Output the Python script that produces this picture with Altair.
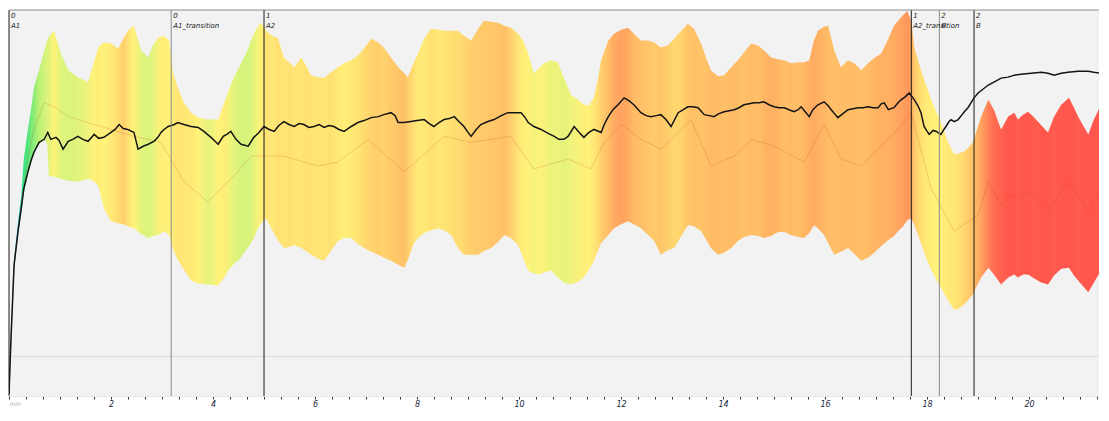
import altair as alt
import pandas as pd

# ---------------- data ----------------
T_SHOWN = 21.37      # right edge of the visible window (minutes)
V_MIN = 10
V_MAX = 401

# band (upper / lower envelope) and its heat level (0 = cold/blue ... 1 = hot/red)
band_t = [0.00, 0.04, 0.10, 0.18, 0.24, 0.29, 0.37, 0.43, 0.49, 0.59,
          0.69, 0.75, 0.78, 0.88, 1.02, 1.16, 1.35, 1.55, 1.65, 1.75,
          1.86, 2.00, 2.14, 2.24, 2.33, 2.45, 2.59, 2.73, 2.82, 2.92,
          3.04, 3.14, 3.22, 3.31, 3.43, 3.57, 3.71, 3.90, 4.10, 4.22,
          4.31, 4.41, 4.51, 4.61, 4.71, 4.80, 4.88, 4.94, 5.04, 5.16,
          5.27, 5.39, 5.49, 5.59, 5.73, 5.82, 5.92, 6.06, 6.18, 6.31,
          6.45, 6.57, 6.71, 6.84, 6.96, 7.10, 7.24, 7.35, 7.49, 7.63,
          7.75, 7.82, 7.94, 8.02, 8.14, 8.27, 8.41, 8.53, 8.67, 8.80,
          8.92, 9.06, 9.20, 9.31, 9.45, 9.59, 9.71, 9.84, 9.98, 10.08,
          10.18, 10.29, 10.39, 10.49, 10.63, 10.76, 10.88, 11.02, 11.16, 11.27,
          11.37, 11.47, 11.55, 11.61, 11.75, 11.86, 12.00, 12.14, 12.25, 12.39,
          12.53, 12.65, 12.78, 12.92, 13.04, 13.18, 13.31, 13.43, 13.57, 13.67,
          13.76, 13.90, 14.02, 14.16, 14.29, 14.41, 14.55, 14.69, 14.80, 14.94,
          15.08, 15.20, 15.33, 15.47, 15.59, 15.69, 15.78, 15.86, 15.98, 16.06,
          16.18, 16.31, 16.45, 16.57, 16.71, 16.84, 16.96, 17.10, 17.24, 17.35,
          17.43, 17.53, 17.61, 17.69, 17.75, 17.88, 17.98, 18.08, 18.18, 18.27,
          18.41, 18.53, 18.63, 18.73, 18.82, 18.90, 18.96, 19.06, 19.20, 19.31,
          19.45, 19.59, 19.71, 19.78, 19.88, 19.98, 20.10, 20.24, 20.37, 20.49,
          20.63, 20.78, 20.88, 20.96, 21.08, 21.16, 21.27, 21.41, 21.53, 21.57, 21.60]

band_hi = [14, 75, 148, 188, 213, 250, 280, 300, 323, 340,
           360, 370, 374, 380, 357, 340, 333, 328, 345, 363,
           368, 367, 362, 372, 380, 385, 360, 353, 365, 373,
           375, 370, 337, 322, 307, 297, 292, 290, 290, 307,
           320, 333, 343, 353, 365, 377, 384, 388, 380, 375,
           373, 353, 348, 343, 353, 345, 335, 333, 332, 338,
           343, 347, 350, 355, 362, 372, 368, 363, 353, 343,
           337, 333, 348, 357, 372, 382, 381, 380, 380, 380,
           375, 370, 382, 390, 389, 388, 385, 383, 377, 370,
           357, 337, 342, 347, 350, 348, 332, 315, 310, 305,
           304, 313, 332, 350, 370, 377, 381, 383, 377, 370,
           370, 368, 363, 365, 372, 380, 387, 382, 367, 352,
           340, 334, 335, 343, 350, 358, 367, 365, 360, 353,
           351, 350, 347, 348, 348, 350, 370, 380, 384, 385,
           360, 343, 350, 347, 340, 347, 352, 357, 372, 385,
           390, 396, 400, 390, 363, 340, 325, 310, 298, 288,
           267, 255, 256, 258, 262, 267, 277, 293, 310, 300,
           280, 293, 297, 290, 295, 298, 292, 284, 277, 293,
           305, 312, 302, 293, 282, 275, 290, 305, 310, 337, 340]

band_lo = [10, 65, 138, 174, 196, 215, 234, 245, 260, 265,
           270, 265, 233, 232, 230, 228, 227, 230, 228, 223,
           200, 187, 185, 184, 182, 180, 174, 170, 172, 173,
           177, 173, 158, 148, 138, 127, 124, 123, 122, 130,
           138, 144, 148, 155, 162, 170, 180, 185, 190, 178,
           168, 160, 161, 163, 160, 157, 153, 149, 147, 157,
           167, 170, 170, 164, 160, 156, 153, 150, 147, 143,
           140, 148, 165, 170, 175, 178, 180, 178, 173, 160,
           153, 153, 153, 157, 160, 166, 173, 170, 163, 150,
           137, 134, 133, 135, 137, 130, 125, 123, 126, 130,
           138, 147, 158, 165, 173, 180, 184, 187, 184, 180,
           173, 167, 153, 158, 160, 172, 183, 182, 177, 168,
           160, 153, 155, 160, 167, 171, 173, 172, 170, 172,
           176, 176, 173, 171, 170, 175, 183, 180, 173, 165,
           153, 156, 160, 154, 147, 150, 155, 162, 168, 172,
           177, 182, 188, 190, 183, 165, 150, 138, 128, 120,
           107, 97, 99, 103, 108, 113, 120, 130, 140, 133,
           123, 130, 133, 130, 133, 133, 129, 125, 123, 132,
           139, 140, 132, 127, 120, 115, 125, 137, 140, 142, 142]

band_heat = [0.00, 0.03, 0.08, 0.12, 0.17, 0.20, 0.22, 0.25, 0.27, 0.32,
             0.38, 0.41, 0.43, 0.50, 0.42, 0.40, 0.42, 0.46, 0.50, 0.52,
             0.50, 0.55, 0.62, 0.68, 0.60, 0.50, 0.43, 0.40, 0.43, 0.48,
             0.52, 0.50, 0.55, 0.58, 0.56, 0.55, 0.50, 0.43, 0.50, 0.52,
             0.47, 0.43, 0.40, 0.39, 0.40, 0.43, 0.48, 0.52, 0.58, 0.55,
             0.60, 0.57, 0.60, 0.58, 0.56, 0.60, 0.58, 0.57, 0.58, 0.60,
             0.55, 0.52, 0.55, 0.58, 0.62, 0.66, 0.68, 0.66, 0.70, 0.72,
             0.74, 0.68, 0.60, 0.55, 0.55, 0.60, 0.56, 0.58, 0.60, 0.62,
             0.64, 0.68, 0.70, 0.70, 0.72, 0.72, 0.74, 0.68, 0.58, 0.52,
             0.50, 0.47, 0.50, 0.48, 0.45, 0.45, 0.43, 0.46, 0.48, 0.52,
             0.50, 0.56, 0.62, 0.68, 0.75, 0.82, 0.85, 0.82, 0.76, 0.74,
             0.72, 0.70, 0.72, 0.68, 0.64, 0.66, 0.72, 0.74, 0.72, 0.74,
             0.76, 0.76, 0.74, 0.76, 0.75, 0.73, 0.76, 0.74, 0.78, 0.80,
             0.78, 0.74, 0.76, 0.74, 0.78, 0.80, 0.82, 0.80, 0.78, 0.76,
             0.74, 0.76, 0.75, 0.76, 0.74, 0.76, 0.78, 0.80, 0.80, 0.82,
             0.84, 0.86, 0.88, 0.85, 0.70, 0.60, 0.55, 0.52, 0.50, 0.52,
             0.55, 0.56, 0.60, 0.65, 0.70, 0.74, 0.78, 0.85, 0.92, 0.96,
             0.98, 1.00, 1.00, 0.99, 1.00, 1.00, 0.99, 1.00, 1.00, 0.99,
             1.00, 1.00, 1.00, 0.99, 1.00, 1.00, 1.00, 1.00, 1.00, 1.00, 1.00]

# black running line
mean_t = [0.00, 0.04, 0.10, 0.18, 0.24, 0.29, 0.37, 0.43, 0.49, 0.59,
          0.69, 0.76, 0.82, 0.92, 0.98, 1.06, 1.16, 1.25, 1.35, 1.45,
          1.55, 1.67, 1.76, 1.86, 2.00, 2.08, 2.16, 2.24, 2.33, 2.45,
          2.53, 2.63, 2.73, 2.84, 2.92, 2.98, 3.04, 3.12, 3.24, 3.31,
          3.43, 3.57, 3.71, 3.82, 3.96, 4.04, 4.10, 4.20, 4.27, 4.35,
          4.45, 4.55, 4.69, 4.80, 4.90, 5.00, 5.10, 5.20, 5.29, 5.39,
          5.49, 5.59, 5.69, 5.78, 5.88, 5.98, 6.08, 6.18, 6.27, 6.37,
          6.47, 6.57, 6.71, 6.84, 6.96, 7.10, 7.24, 7.35, 7.49, 7.57,
          7.63, 7.75, 7.88, 8.00, 8.14, 8.24, 8.33, 8.43, 8.53, 8.63,
          8.73, 8.82, 8.92, 9.00, 9.06, 9.16, 9.25, 9.39, 9.51, 9.65,
          9.78, 9.90, 10.04, 10.12, 10.18, 10.29, 10.43, 10.57, 10.69, 10.78,
          10.88, 10.96, 11.08, 11.18, 11.27, 11.37, 11.47, 11.61, 11.67, 11.75,
          11.84, 11.94, 12.06, 12.16, 12.25, 12.39, 12.49, 12.59, 12.69, 12.78,
          12.88, 12.98, 13.12, 13.22, 13.31, 13.41, 13.51, 13.63, 13.73, 13.82,
          13.92, 14.02, 14.12, 14.22, 14.31, 14.41, 14.51, 14.61, 14.71, 14.80,
          14.90, 15.00, 15.10, 15.20, 15.29, 15.39, 15.47, 15.53, 15.61, 15.69,
          15.76, 15.86, 15.98, 16.06, 16.12, 16.20, 16.25, 16.35, 16.45, 16.55,
          16.65, 16.75, 16.84, 16.94, 17.04, 17.10, 17.16, 17.24, 17.35, 17.43,
          17.49, 17.57, 17.65, 17.75, 17.82, 17.88, 17.94, 18.00, 18.04, 18.12,
          18.18, 18.24, 18.27, 18.33, 18.37, 18.43, 18.47, 18.53, 18.61, 18.67,
          18.73, 18.80, 18.86, 18.92, 19.00, 19.10, 19.20, 19.31, 19.45, 19.59,
          19.71, 19.84, 20.04, 20.24, 20.37, 20.49, 20.63, 20.76, 20.96, 21.16,
          21.27, 21.41, 21.51, 21.60]

mean_v = [12, 70, 143, 178, 200, 220, 237, 248, 257, 267,
          270, 277, 270, 272, 269, 260, 268, 270, 273, 270,
          268, 275, 271, 272, 277, 280, 285, 281, 280, 277,
          260, 263, 265, 268, 272, 277, 280, 283, 285, 287,
          285, 283, 282, 278, 272, 268, 265, 273, 275, 278,
          270, 265, 263, 272, 277, 283, 280, 278, 284, 288,
          285, 283, 286, 285, 282, 283, 285, 282, 284, 283,
          280, 278, 283, 287, 289, 292, 293, 295, 297, 294,
          287, 287, 288, 289, 290, 286, 283, 287, 290, 291,
          293, 288, 283, 277, 273, 280, 285, 288, 290, 294,
          297, 297, 297, 292, 287, 283, 280, 276, 273, 270,
          270, 273, 283, 277, 272, 277, 280, 277, 285, 293,
          300, 305, 312, 309, 305, 297, 294, 293, 294, 295,
          290, 283, 297, 300, 303, 303, 302, 295, 294, 293,
          296, 298, 299, 300, 302, 305, 306, 307, 307, 308,
          305, 303, 302, 302, 300, 298, 300, 303, 298, 293,
          300, 305, 308, 304, 300, 295, 292, 296, 300, 301,
          302, 302, 303, 302, 302, 306, 307, 300, 302, 307,
          310, 313, 317, 310, 304, 297, 283, 278, 275, 279,
          278, 276, 275, 280, 283, 288, 290, 288, 290, 294,
          298, 302, 307, 312, 317, 321, 325, 328, 332, 333,
          335, 336, 337, 338, 337, 335, 337, 338, 339, 339,
          338, 337, 338, 339]

# faint middle line of the band
mid_t = [0.00, 0.10, 0.24, 0.37, 0.49, 0.69, 0.92, 1.16, 1.80, 2.45,
         2.98, 3.43, 3.90, 4.41, 4.75, 5.39, 6.06, 6.45, 7.04, 7.75,
         8.53, 9.06, 9.84, 10.29, 10.96, 11.41, 11.67, 12.00, 12.39, 12.78,
         13.37, 13.76, 14.22, 14.55, 15.00, 15.59, 15.98, 16.31, 16.71, 17.04,
         17.43, 17.69, 18.08, 18.53, 18.90, 19.00, 19.20, 19.45, 19.65, 19.78,
         19.98, 20.37, 20.57, 20.78, 21.16, 21.41, 21.60]
mid_v = [12, 143, 204, 250, 280, 307, 302, 293, 283, 273,
         267, 227, 207, 233, 253, 253, 243, 247, 270, 237,
         273, 267, 273, 240, 250, 240, 267, 285, 270, 260,
         290, 243, 253, 270, 263, 247, 285, 250, 243, 260,
         280, 297, 220, 177, 190, 193, 227, 203, 215, 210,
         217, 197, 213, 227, 197, 220, 225]

# phase markers
event_t = [0.0, 3.18, 5.0, 17.69, 18.24, 18.92]
event_idx = ["0", "0", "1", "1", "2", "2"]
event_name = ["A1", "A1_transition", "A2", "A2_transition", "B", "B"]
event_kind = ["phase", "transition", "phase", "phase", "transition", "phase"]

baseline_v = [50]
top_v = [V_MAX]

# ---------------- styling ----------------
PALETTE = [(0.00, "#3b3bff"), (0.10, "#22c6f0"), (0.20, "#3ae27e"),
           (0.30, "#b2f072"), (0.40, "#d8f47c"), (0.50, "#fff27a"),
           (0.60, "#ffe072"), (0.70, "#ffca6a"), (0.78, "#ffb664"),
           (0.86, "#ffa05e"), (1.00, "#ff574d")]


def heat_hex(h):
    for (a, ca), (b, cb) in zip(PALETTE[:-1], PALETTE[1:]):
        if h <= b:
            f = 0 if b == a else (h - a) / (b - a)
            f = max(0.0, min(1.0, f))
            r1, g1, b1 = int(ca[1:3], 16), int(ca[3:5], 16), int(ca[5:7], 16)
            r2, g2, b2 = int(cb[1:3], 16), int(cb[3:5], 16), int(cb[5:7], 16)
            return "#%02x%02x%02x" % (round(r1 + (r2 - r1) * f),
                                      round(g1 + (g2 - g1) * f),
                                      round(b1 + (b2 - b1) * f))
    return PALETTE[-1][1]


n = min(len(band_t), len(band_hi), len(band_lo), len(band_heat))
band_df = pd.DataFrame({"t": band_t[:n], "hi": band_hi[:n], "lo": band_lo[:n]})
t_last = band_t[n - 1]
stops = [alt.GradientStop(offset=min(1.0, band_t[i] / t_last), color=heat_hex(band_heat[i]))
         for i in range(n)]
band_fill = alt.Gradient(gradient="linear", stops=stops, x1=0, x2=1, y1=0, y2=0)

m = min(len(mean_t), len(mean_v))
mean_df = pd.DataFrame({"t": mean_t[:m], "v": mean_v[:m]})
k = min(len(mid_t), len(mid_v))
mid_df = pd.DataFrame({"t": mid_t[:k], "v": mid_v[:k]})
ev_df = pd.DataFrame({"t": event_t, "idx": event_idx, "name": event_name, "kind": event_kind})

xs = alt.Scale(domain=[0, T_SHOWN], nice=False, zero=False)
ys = alt.Scale(domain=[V_MIN, V_MAX], nice=False, zero=False)

tick_vals = [i / 3 for i in range(int(T_SHOWN * 3) + 1)]
x_axis = alt.Axis(
    values=tick_vals,
    labelExpr="datum.value < 0.01 ? 'min' : (abs(datum.value / 2 - round(datum.value / 2)) < 0.01 ? format(round(datum.value), 'd') : '')",
    tickSize=3, tickColor="#333333", domainColor="#e4e4e4",
    labelFont="DejaVu Sans", labelFontStyle="italic",
    labelFontSize={"condition": {"test": "datum.value < 0.01", "value": 6}, "value": 8},
    labelColor={"condition": {"test": "datum.value < 0.01", "value": "#b0b0b0"}, "value": "#1c2740"},
    labelPadding=1, labelOverlap=False, labelFlush=True, grid=False, title=None,
)
X = alt.X("t:Q", scale=xs, axis=x_axis)

base_rule = alt.Chart(pd.DataFrame({"v": baseline_v})).mark_rule(
    color="#e2e2e2", strokeWidth=1.5
).encode(y=alt.Y("v:Q", scale=ys, axis=None))

band = alt.Chart(band_df).mark_area(fill=band_fill, opacity=1, clip=True).encode(
    x=X, y=alt.Y("hi:Q", scale=ys, axis=None), y2="lo:Q",
)

mid = alt.Chart(mid_df).mark_line(color="#b83c10", strokeWidth=1, opacity=0.2, clip=True).encode(
    x=X, y=alt.Y("v:Q", scale=ys, axis=None)
)

mean = alt.Chart(mean_df).mark_line(color="#141414", strokeWidth=1.5, clip=True).encode(
    x=X, y=alt.Y("v:Q", scale=ys, axis=None)
)

ev_rules = alt.Chart(ev_df).mark_rule(strokeWidth=1).encode(
    x=X,
    color=alt.Color("kind:N", scale=alt.Scale(domain=["phase", "transition"],
                                              range=["#1a1a1a", "#8a8a8a"]), legend=None),
)

txt = dict(align="left", baseline="top", dx=2, font="DejaVu Sans", fontSize=7,
           fontStyle="italic", color="#222222")
idx_text = alt.Chart(ev_df).mark_text(**txt).encode(x=X, y=alt.value(2), text="idx:N")
name_text = alt.Chart(ev_df).mark_text(**txt).encode(x=X, y=alt.value(12), text="name:N")

top_rule = alt.Chart(pd.DataFrame({"v": top_v})).mark_rule(
    color="#8c8c8c", strokeWidth=1
).encode(y=alt.Y("v:Q", scale=ys, axis=None))

chart = alt.layer(
    base_rule, band, mid, mean, ev_rules, idx_text, name_text, top_rule
).properties(
    width=1090, height=386,
    padding={"left": 0, "top": 1, "right": 0, "bottom": 0},
    background="white",
).configure_view(fill="#f2f2f2", stroke=None)

chart.save("out.html", embed_options={"renderer": "svg", "actions": False})
